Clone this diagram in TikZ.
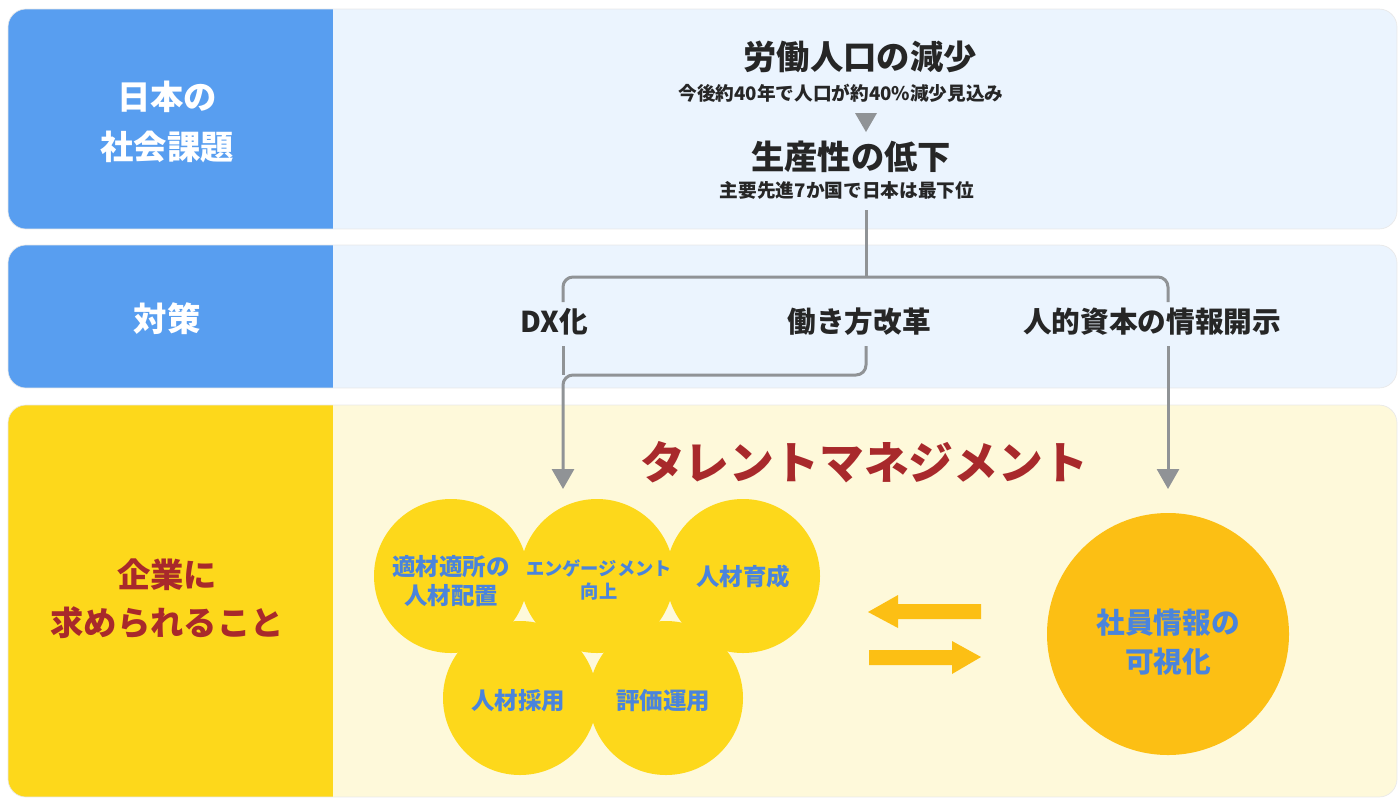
\documentclass[tikz,border=0pt]{standalone}
\usepackage{fontspec}
\setmainfont{Noto Sans CJK JP}
\usetikzlibrary{arrows.meta}
\definecolor{blueL}{HTML}{589EF0}
\definecolor{blueP}{HTML}{EBF4FE}
\definecolor{yelL}{HTML}{FDD81B}
\definecolor{yelP}{HTML}{FEF9DA}
\definecolor{darkred}{HTML}{A8292B}
\definecolor{txtblue}{HTML}{4A84DC}
\definecolor{conn}{HTML}{909396}
\definecolor{amber}{HTML}{FCBF14}
\definecolor{ink}{HTML}{262626}
\tikzset{
  sidelbl/.style={font=\bfseries\fontsize{25}{37}\selectfont, text=white, align=center, inner sep=0},
  sidered/.style={font=\bfseries\fontsize{25}{36}\selectfont, text=darkred, align=center, inner sep=0},
  headtxt/.style={font=\bfseries\fontsize{25}{30}\selectfont, text=ink, inner sep=0},
  subtxt/.style={font=\bfseries\fontsize{14}{17}\selectfont, text=ink, inner sep=0},
  measure/.style={font=\bfseries\fontsize{21.5}{26}\selectfont, text=ink, inner sep=0},
  conline/.style={draw=conn, line width=2.25pt, rounded corners=7.5pt},
  conarrow/.style={conline, -{Triangle[width=16.5pt,length=15pt]}},
  ball/.style={circle, fill=yelL, minimum size=115.5pt, inner sep=0},
  balltxt/.style={font=\bfseries\fontsize{17.6}{22}\selectfont, text=txtblue, align=center, inner sep=0},
  balltxts/.style={font=\bfseries\fontsize{13.7}{17}\selectfont, text=txtblue, align=center, inner sep=0},
  bigarrow/.style={fill=amber},
}
\begin{document}
\begin{tikzpicture}[x=0.75pt,y=-0.75pt]
\useasboundingbox (0,0) rectangle (1398,797);
% bands
\foreach \ya/\yb/\cl/\cr in {9/229/blueL/blueP, 245/388/blueL/blueP, 405/797/yelL/yelP} {
  \begin{scope}
    \clip[rounded corners=13.5pt] (8,\ya) rectangle (1397,\yb);
    \fill[\cr] (8,\ya) rectangle (1397,\yb);
    \fill[\cl] (8,\ya) rectangle (333,\yb);
  \end{scope}
  \draw[black!9, line width=0.5pt, rounded corners=13.5pt] (8,\ya) rectangle (1397,\yb);
}
% side labels
\node[sidelbl] (kadai) at (167,122) {日本の\\社会課題};
\node[sidelbl] (taisaku) at (167,319) {対策};
\node[sidered] (kigyo) at (167,599) {企業に\\求められること};
% row 1
\node[headtxt] (rodo) at (860,57) {労働人口の減少};
\node[subtxt] (rodosub) at (841,93) {今後約40年で人口が約40\%減少見込み};
\fill[conn] (855,113) -- (877,113) -- (866,132) -- cycle;
\node[headtxt] (seisan) at (851,157) {生産性の低下};
\node[subtxt] (seisansub) at (847,190) {主要先進7か国で日本は最下位};
% row 2
\node[measure] (dx) at (554,322) {DX化};
\node[measure] (hataraki) at (859,322) {働き方改革};
\node[measure] (jinteki) at (1152,322) {人的資本の情報開示};
% connector coordinates
\coordinate (s0) at (866,210);
\coordinate (s1) at (866,277);
\coordinate (bl) at (563,302);
\coordinate (br) at (1168,302);
\coordinate (dxb) at (563,346);
\coordinate (hb) at (866,346);
\coordinate (jb) at (1168,346);
\coordinate (m) at (563,375);
\coordinate (t1) at (563,489);
\coordinate (t2) at (1168,489);
\draw[conline] (s0) -- (s1);
\draw[conline] (bl) |- (s1) -| (br);
\draw[conline] (dxb) -- (m);
\draw[conarrow] (hb) |- (m) -- (t1);
\draw[conarrow] (jb) -- (t2);
% row 3
\node[font=\bfseries\fontsize{33.6}{40}\selectfont, text=darkred, inner sep=0] (talent) at (864,462) {タレントマネジメント};
\node[ball] (c1) at (451,576) {};
\node[ball] (c2) at (597,576) {};
\node[ball] (c3) at (743,576) {};
\node[ball] (c4) at (520,698) {};
\node[ball] (c5) at (666,698) {};
\node[balltxt] at (451,581) {適材適所の\\人材配置};
\node[balltxts] at (599,580) {エンゲージメント\\向上};
\node[balltxt] at (743,577) {人材育成};
\node[balltxt] at (518,701) {人材採用};
\node[balltxt] at (663,701) {評価運用};
\node[circle, fill=amber, minimum size=181.5pt, inner sep=0] (vis) at (1168,634) {};
\node[font=\bfseries\fontsize{21.5}{29}\selectfont, text=txtblue, align=center, inner sep=0] (vistxt) at (1168,642) {社員情報の\\可視化};
% big arrows
\fill[bigarrow] (868,612) -- (898,595) -- (898,604) -- (981,604) -- (981,619) -- (898,619) -- (898,628) -- cycle;
\fill[bigarrow] (981,657) -- (952,641) -- (952,650) -- (869,650) -- (869,665) -- (952,665) -- (952,674) -- cycle;
\end{tikzpicture}
\end{document}
